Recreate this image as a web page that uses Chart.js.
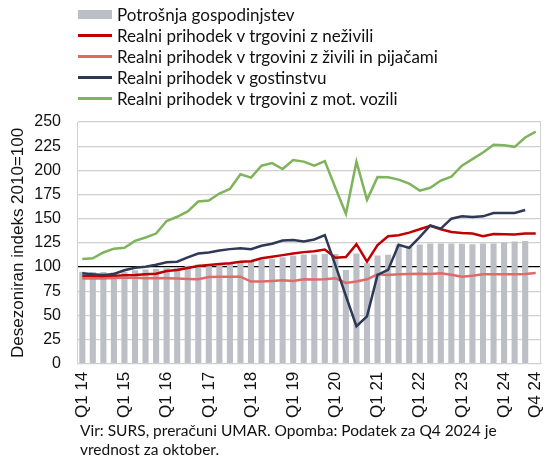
<!DOCTYPE html>
<html>
<head>
<meta charset="utf-8">
<script src="https://cdn.jsdelivr.net/npm/chart.js@4.4.1/dist/chart.umd.min.js"></script>
<style>
  html, body { margin: 0; padding: 0; background: #fff; }
  #wrap { position: relative; width: 545px; height: 459px; }
  #chart { position: absolute; left: 0; top: 0; }
  #legend { position: absolute; left: 78px; top: 4px; font-family: Lato, sans-serif; font-size: 17px; color: #111; }
  #legend .row { height: 21px; line-height: 21px; display: flex; align-items: center; white-space: nowrap; }
  #legend .sw { width: 34px; margin-right: 5px; flex: none; }
  #note { position: absolute; left: 80px; top: 421px; font-family: Lato, sans-serif; font-size: 15.5px; line-height: 19px; color: #111; white-space: nowrap; }
</style>
</head>
<body>
<div id="wrap">
  <canvas id="chart" width="545" height="459"></canvas>
  <div id="legend"></div>
  <div id="note">Vir: SURS, preračuni UMAR. Opomba: Podatek za Q4 2024 je<br>vrednost za oktober.</div>
</div>
<script>
// Data (index 2010=100, quarterly Q1 2014 - Q4 2024)
const quarters = [
  'Q1 14','Q2 14','Q3 14','Q4 14','Q1 15','Q2 15','Q3 15','Q4 15',
  'Q1 16','Q2 16','Q3 16','Q4 16','Q1 17','Q2 17','Q3 17','Q4 17',
  'Q1 18','Q2 18','Q3 18','Q4 18','Q1 19','Q2 19','Q3 19','Q4 19',
  'Q1 20','Q2 20','Q3 20','Q4 20','Q1 21','Q2 21','Q3 21','Q4 21',
  'Q1 22','Q2 22','Q3 22','Q4 22','Q1 23','Q2 23','Q3 23','Q4 23',
  'Q1 24','Q2 24','Q3 24','Q4 24'
];

const potrosnja = [
  95.2, 94.9, 94.9, 94.5, 95.2, 96.6, 97.3, 98.0, 98.6, 100.0, 101.4, 102.7,
  103.0, 103.4, 103.8, 104.8, 105.5, 107.5, 108.6, 110.0, 111.6, 113.0, 113.0, 113.4,
  113.4, 97.0, 114.0, 104.0, 112.0, 112.7, 123.3, 121.9, 123.3, 124.3, 124.3, 124.3,
  124.0, 123.6, 124.3, 124.3, 125.7, 126.4, 127.0, null
];

const neziviliVals = [
  90.8, 90.4, 90.0, 90.8, 91.4, 91.8, 92.5, 93.0, 95.9, 97.0, 99.0, 101.0,
  102.0, 103.0, 104.0, 105.5, 106.0, 109.0, 110.6, 112.3, 114.0, 115.4, 116.4, 118.0,
  109.6, 110.3, 123.6, 105.5, 122.6, 131.8, 132.9, 135.6, 139.0, 142.5, 139.0, 136.3,
  135.3, 134.6, 131.8, 134.2, 133.9, 133.6, 134.6, 134.6
];

const ziviliVals = [
  88.0, 88.0, 88.0, 88.7, 89.0, 89.0, 88.4, 88.7, 88.4, 88.0, 87.7, 87.3,
  89.7, 90.0, 90.0, 90.0, 85.0, 85.0, 85.6, 86.3, 85.6, 87.3, 87.0, 87.3,
  88.4, 83.6, 85.0, 87.3, 92.5, 91.8, 92.5, 92.8, 93.0, 92.8, 93.5, 92.1,
  90.0, 91.0, 92.5, 92.5, 92.5, 92.5, 92.8, 93.8
];

const gostinstvoVals = [
  93.5, 92.5, 91.8, 92.8, 96.6, 99.3, 100.3, 102.4, 105.0, 105.5, 110.0, 114.0,
  115.0, 117.0, 118.5, 119.5, 118.5, 122.0, 124.0, 127.4, 128.0, 126.4, 128.5, 133.0,
  102.0, 70.0, 38.7, 49.0, 91.8, 97.0, 123.0, 119.8, 131.0, 143.0, 139.7, 150.0,
  152.4, 151.7, 152.4, 155.8, 155.8, 155.8, 159.0, null
];

const voziliVals = [
  108.2, 109.0, 115.0, 119.0, 120.0, 127.0, 130.5, 134.6, 147.6, 152.0, 157.5, 167.8,
  168.8, 176.0, 180.8, 196.0, 192.5, 204.8, 207.5, 201.4, 210.6, 209.0, 204.8, 209.6,
  182.0, 155.0, 209.0, 169.5, 193.0, 192.8, 190.4, 186.3, 179.0, 182.0, 189.4, 193.5,
  204.8, 211.6, 218.5, 226.4, 226.0, 224.3, 234.0, 240.0
];

const yTicks = [0, 25, 50, 75, 100, 125, 150, 175, 200, 225, 250];

const series = [
  { label: 'Potrošnja gospodinjstev', color: '#bcc0c6', bar: true },
  { label: 'Realni prihodek v trgovini z neživili', color: '#c00000' },
  { label: 'Realni prihodek v trgovini z živili in pijačami', color: '#e06a6a' },
  { label: 'Realni prihodek v gostinstvu', color: '#2e3956' },
  { label: 'Realni prihodek v trgovini z mot. vozili', color: '#7fb35c' }
];

// legend
const legendEl = document.getElementById('legend');
series.forEach(s => {
  const row = document.createElement('div');
  row.className = 'row';
  const sw = document.createElement('span');
  sw.className = 'sw';
  sw.style.background = s.color;
  sw.style.height = s.bar ? '9px' : '3px';
  const txt = document.createElement('span');
  txt.textContent = s.label;
  row.appendChild(sw);
  row.appendChild(txt);
  legendEl.appendChild(row);
});

const lineDs = (s, data) => ({
  type: 'line',
  label: s.label,
  data: data,
  borderColor: s.color,
  backgroundColor: s.color,
  borderWidth: 2.5,
  pointRadius: 0,
  tension: 0,
  spanGaps: false
});

const ctx = document.getElementById('chart').getContext('2d');
new Chart(ctx, {
  data: {
    labels: quarters,
    datasets: [
      lineDs(series[4], voziliVals),
      lineDs(series[3], gostinstvoVals),
      lineDs(series[2], ziviliVals),
      lineDs(series[1], neziviliVals),
      {
        type: 'bar',
        label: series[0].label,
        data: potrosnja,
        backgroundColor: series[0].color,
        categoryPercentage: 1,
        barPercentage: 0.58
      }
    ]
  },
  options: {
    responsive: false,
    animation: false,
    layout: { padding: { top: 122, bottom: 33, left: 6, right: 4 } },
    plugins: { legend: { display: false }, tooltip: { enabled: false } },
    scales: {
      x: {
        offset: true,
        grid: { display: false, drawTicks: false },
        border: { display: true, color: '#d0d0d0' },
        afterFit: ax => { ax.paddingRight = 0; ax.paddingLeft = 0; },
        ticks: {
          autoSkip: false,
          maxRotation: 90,
          minRotation: 90,
          padding: 8,
          color: '#111',
          font: { family: 'Liberation Sans', size: 17 },
          callback: function (v, i) {
            const l = quarters[i];
            return (l.startsWith('Q1') || i === quarters.length - 1) ? l : '';
          }
        }
      },
      y: {
        min: 0,
        max: 250,
        afterBuildTicks: ax => { ax.ticks = yTicks.map(v => ({ value: v })); },
        afterFit: ax => { ax.width = 71; },
        grid: {
          color: c => c.tick && c.tick.value === 100 ? '#000' : '#d0d0d0',
          lineWidth: 1.2,
          drawTicks: false
        },
        border: { display: true, color: '#d0d0d0' },
        ticks: { padding: 16, color: '#111', font: { family: 'Liberation Sans', size: 16 } },
        title: {
          display: true,
          text: 'Desezoniran indeks 2010=100',
          color: '#111',
          font: { family: 'Liberation Sans', size: 17 },
          padding: { top: 2, bottom: 5 }
        }
      }
    }
  },
  plugins: [{
    // right border of the plot box
    id: 'frame',
    afterDraw(chart) {
      const a = chart.chartArea, c = chart.ctx;
      c.save();
      c.strokeStyle = '#d0d0d0';
      c.lineWidth = 1;
      c.beginPath();
      c.moveTo(a.right - 0.5, a.top);
      c.lineTo(a.right - 0.5, a.bottom);
      c.stroke();
      c.restore();
    }
  }]
});
</script>
</body>
</html>
